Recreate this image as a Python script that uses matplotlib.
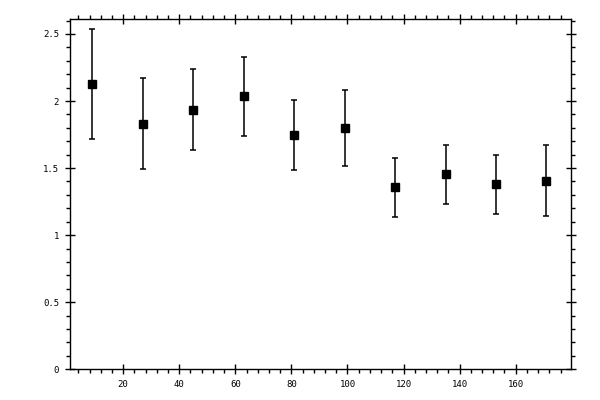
import matplotlib
matplotlib.use("Agg")
import matplotlib.pyplot as plt
from matplotlib.ticker import MultipleLocator, FuncFormatter

x_vals = [9, 27, 45, 63, 81, 99, 117, 135, 153, 171]
y_vals = [2.13, 1.83, 1.935, 2.035, 1.747, 1.80, 1.358, 1.455, 1.381, 1.405]
y_err = [0.41, 0.34, 0.30, 0.295, 0.26, 0.285, 0.22, 0.22, 0.22, 0.265]


def main() -> None:
    fig = plt.figure(figsize=(6, 4), dpi=100)
    ax = fig.add_axes([0.116, 0.077, 0.835, 0.875])

    ax.errorbar(x_vals, y_vals, yerr=y_err, fmt="s", color="black",
                ecolor="black", elinewidth=1.1, capsize=2.5, capthick=1.1,
                markersize=5.5)

    ax.set_xlim(0.9, 179.6)
    ax.set_ylim(0, 2.61)

    ax.xaxis.set_major_locator(MultipleLocator(20))
    ax.xaxis.set_minor_locator(MultipleLocator(4))
    ax.yaxis.set_major_locator(MultipleLocator(0.5))
    ax.yaxis.set_minor_locator(MultipleLocator(0.1))
    ax.xaxis.set_major_formatter(FuncFormatter(lambda v, p: "" if v < 1 else f"{v:g}"))
    ax.yaxis.set_major_formatter(FuncFormatter(lambda v, p: f"{v:g}"))

    ax.tick_params(which="both", top=True, right=True, width=1, colors="black")
    ax.tick_params(which="major", direction="inout", length=7, pad=4,
                   labelsize=6.5)
    ax.tick_params(which="minor", direction="out", length=3)
    for lab in ax.get_xticklabels() + ax.get_yticklabels():
        lab.set_family("DejaVu Sans Mono")

    for s in ax.spines.values():
        s.set_linewidth(1.0)

    fig.savefig("out.png", dpi=100)
    plt.close(fig)


if __name__ == "__main__":
    main()
